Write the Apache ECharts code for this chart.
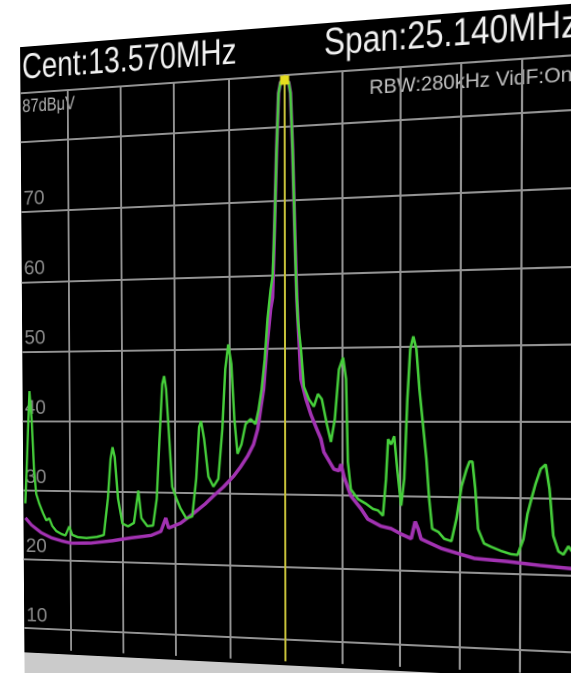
<!DOCTYPE html>
<html>
<head>
<meta charset="utf-8">
<script src="https://cdn.jsdelivr.net/npm/echarts@6/dist/echarts.min.js"></script>
<style>
html,body{margin:0;padding:0;background:#ffffff;overflow:hidden;width:571px;height:673px;}
#photo{position:absolute;left:0;top:0;width:571px;height:710px;transform-origin:0 0;}
#screen{position:absolute;left:6px;top:28px;width:600px;height:637px;background:#000;}
#bezel{position:absolute;left:6px;top:665px;width:600px;height:45px;background:#cbcbcb;}
#chart{position:absolute;left:0;top:0;width:571px;height:673px;clip-path:inset(28px 0 8px 6px);}
</style>
</head>
<body>
<div id="photo"><div id="screen"></div><div id="bezel"></div><div id="chart"></div></div>
<script>
// ---- data ----
const centerFreq = 13.57;          // MHz
const markerLevel = 86.3;          // dBμV
const freqTicks = [1.0, 3.514, 6.028, 8.542, 11.056, 13.57, 16.084, 18.598, 21.112, 23.626, 26.14];
const levelTicks = [10, 20, 30, 40, 50, 60, 70, 80, 87];
const levelLabels = [10, 20, 30, 40, 50, 60, 70];

const greenFreq = [1.30,1.44,1.54,1.64,1.74,1.84,1.99,2.18,2.33,2.48,
  2.63,2.82,3.07,3.27,3.46,3.61,3.86,4.30,4.80,5.14,
  5.34,5.48,5.58,5.68,5.83,6.03,6.30,6.58,6.80,6.94,
  7.22,7.49,7.67,7.81,7.95,8.04,8.13,8.27,8.40,8.59,
  8.78,9.05,9.33,9.52,9.66,9.75,9.89,10.08,10.31,10.54,
  10.73,10.87,11.01,11.15,11.28,11.42,11.60,11.79,12.02,12.24,
  12.38,12.52,12.66,12.79,12.93,13.02,13.11,13.21,13.30,13.39,
  13.57,13.75,13.83,13.92,14.01,14.06,14.14,14.28,14.41,14.63,
  14.85,15.03,15.20,15.42,15.60,15.77,15.95,16.13,16.26,16.34,
  16.47,16.78,17.12,17.43,17.65,17.86,17.99,18.08,18.21,18.34,
  18.47,18.64,18.77,18.90,19.02,19.15,19.28,19.41,19.54,19.71,
  19.83,19.96,20.22,20.47,20.77,20.98,21.19,21.40,21.52,21.64,
  21.76,21.88,22.13,22.41,22.81,23.22,23.51,23.75,23.91,24.07,
  24.23,24.44,24.64,24.80,24.96,25.17,25.37,25.57,25.70,26.14];
const greenLevel = [28.1,37.4,44.3,40.3,33.1,29.5,28.1,26.7,25.7,26.0,
  24.9,24.2,23.8,23.6,24.9,23.7,23.4,23.3,23.5,23.8,
  29.0,34.6,36.3,34.9,29.0,25.5,25.1,25.6,30.2,26.3,
  25.2,25.3,29.1,37.5,45.2,46.3,44.5,37.5,30.8,29.2,
  27.8,26.4,26.7,32.0,39.2,40.0,37.5,32.3,30.9,32.0,
  38.9,47.2,50.6,47.9,40.3,35.5,36.8,39.6,40.3,39.6,
  41.6,44.4,48.5,54.0,58.0,59.8,66.2,77.1,84.6,86.1,
  86.3,86.0,84.5,77.0,66.1,59.7,53.9,49.8,44.7,43.0,
  42.0,43.7,43.0,39.6,37.2,40.3,47.0,48.6,45.7,34.5,
  30.8,29.5,28.9,28.2,28.0,27.3,32.2,37.6,36.9,38.0,
  33.6,28.7,32.3,42.9,49.6,51.3,49.6,44.3,40.3,35.0,
  29.7,25.7,25.3,24.4,24.1,27.1,31.4,33.7,34.7,34.7,
  31.1,25.8,23.9,23.5,23.0,22.6,22.5,24.6,27.9,29.9,
  31.8,33.8,34.4,31.2,25.1,23.1,22.7,23.8,23.2,23.0];

const purpleFreq = [1.30,1.59,2.08,2.58,3.07,3.56,4.55,5.54,6.48,7.40,
  7.86,8.09,8.22,8.78,9.38,9.94,10.31,10.78,11.24,11.56,
  11.88,12.15,12.34,12.47,12.61,12.75,12.93,13.02,13.11,13.21,
  13.30,13.39,13.57,13.75,13.83,13.92,14.01,14.10,14.28,14.50,
  14.72,14.98,15.16,15.29,15.73,15.95,16.04,16.17,16.47,16.91,
  17.21,17.77,18.21,18.64,19.07,19.24,19.37,19.49,20.35,21.72,
  23.10,24.44,25.70,26.14];
const purpleLevel = [26.0,25.0,23.9,23.2,22.8,22.5,22.6,23.0,23.5,23.9,
  24.5,26.4,25.0,25.7,27.1,28.5,29.6,30.9,32.4,33.7,
  35.2,36.8,38.9,41.6,44.4,49.8,55.3,56.9,66.2,77.1,
  84.6,86.1,86.3,86.0,84.5,77.0,66.1,56.6,45.7,43.0,
  40.9,38.9,37.6,35.8,33.5,33.3,34.2,32.5,29.9,28.2,
  26.8,25.9,25.6,24.9,24.3,26.6,25.6,24.3,23.1,21.9,
  21.6,21.2,20.9,20.8];

const headerLeft = 'Cent:13.570MHz';
const headerRight = 'Span:25.140MHz';
const subRight = 'RBW:280kHz VidF:On';
const refLabel = '87dBμV';

// ---- layout (flat screen coordinates) ----
const LAY = { centerX: 284, divPx: 56.5, y80: 127, dbPx: 7.314 };
const gridLeft = LAY.centerX - 5 * LAY.divPx;
const gridWidth = 10 * LAY.divPx;
const gridTop = LAY.y80 - 7 * LAY.dbPx;
const gridHeight = 80 * LAY.dbPx;

// perspective of the photographed screen: flat reference points -> photo points
const flatPts = [[LAY.centerX - 4*LAY.divPx, LAY.y80], [LAY.centerX + 4*LAY.divPx, LAY.y80],
                 [LAY.centerX - 4*LAY.divPx, LAY.y80 + 70*LAY.dbPx], [LAY.centerX + 4*LAY.divPx, LAY.y80 + 70*LAY.dbPx]];
const photoPts = [[68, 139.5], [522, 113], [71, 630], [520, 650]];

function solveLinear(A, b) {
  const n = b.length;
  for (let i = 0; i < n; i++) {
    let p = i;
    for (let r = i + 1; r < n; r++) if (Math.abs(A[r][i]) > Math.abs(A[p][i])) p = r;
    [A[i], A[p]] = [A[p], A[i]]; [b[i], b[p]] = [b[p], b[i]];
    for (let r = i + 1; r < n; r++) {
      const f = A[r][i] / A[i][i];
      for (let c = i; c < n; c++) A[r][c] -= f * A[i][c];
      b[r] -= f * b[i];
    }
  }
  const x = new Array(n);
  for (let i = n - 1; i >= 0; i--) {
    let s = b[i];
    for (let c = i + 1; c < n; c++) s -= A[i][c] * x[c];
    x[i] = s / A[i][i];
  }
  return x;
}
(function applyPerspective() {
  const A = [], b = [];
  for (let i = 0; i < 4; i++) {
    const [x, y] = flatPts[i], [u, v] = photoPts[i];
    A.push([x, y, 1, 0, 0, 0, -x*u, -y*u]); b.push(u);
    A.push([0, 0, 0, x, y, 1, -x*v, -y*v]); b.push(v);
  }
  const h = solveLinear(A, b);
  const m = [h[0], h[3], 0, h[6], h[1], h[4], 0, h[7], 0, 0, 1, 0, h[2], h[5], 0, 1];
  document.getElementById('photo').style.transform = 'matrix3d(' + m.join(',') + ')';
})();

const zip = (xs, ys) => xs.slice(0, Math.min(xs.length, ys.length)).map((x, i) => [x, ys[i]]);

const SANS = '"Liberation Sans", Arial, sans-serif';
const gridColor = '#939393';

const chart = echarts.init(document.getElementById('chart'), null, { renderer: 'canvas', devicePixelRatio: 2 });
chart.setOption({
  animation: false,
  backgroundColor: 'transparent',
  grid: { left: gridLeft, top: gridTop, width: gridWidth, height: gridHeight, containLabel: false },
  xAxis: {
    type: 'value', min: freqTicks[0], max: freqTicks[freqTicks.length - 1],
    axisLine: { show: false },
    axisTick: { show: false, customValues: freqTicks },
    axisLabel: { show: false },
    splitLine: { show: true, lineStyle: { color: gridColor, width: 2 } }
  },
  yAxis: {
    type: 'value', min: 7, max: 87,
    axisLine: { show: false },
    axisTick: { show: false, customValues: levelTicks },
    axisLabel: { show: true, inside: true, customValues: levelLabels, margin: 7,
      color: '#8c8c8c', fontSize: 21, fontFamily: SANS, align: 'left', verticalAlign: 'bottom', padding: [0, 0, 3, 0] },
    splitLine: { show: true, lineStyle: { color: gridColor, width: 2 } }
  },
  graphic: [
    { type: 'text', x: 8, y: 51, scaleX: 0.82, style: { text: headerLeft, fill: '#f2f2f2', fontSize: 37, fontFamily: SANS, align: 'left', verticalAlign: 'middle' } },
    { type: 'text', x: 323, y: 49, scaleX: 0.83, style: { text: headerRight, fill: '#f2f2f2', fontSize: 37, fontFamily: SANS, align: 'left', verticalAlign: 'middle' } },
    { type: 'text', x: 367, y: 95, style: { text: subRight, fill: '#c4c4c4', fontSize: 19, fontFamily: SANS, align: 'left', verticalAlign: 'middle' } },
    { type: 'text', x: 8, y: 91, scaleX: 0.85, style: { text: refLabel, fill: '#b0b0b0', fontSize: 19, fontFamily: SANS, align: 'left', verticalAlign: 'middle' } }
  ],
  series: [
    { name: 'Trace 2', type: 'line', data: zip(purpleFreq, purpleLevel), showSymbol: false, z: 2,
      lineStyle: { color: '#a232b2', width: 3.5 }, itemStyle: { color: '#a232b2' } },
    { name: 'Trace 1', type: 'line', data: zip(greenFreq, greenLevel), showSymbol: false, z: 3,
      lineStyle: { color: '#46cf3b', width: 2.5 }, itemStyle: { color: '#46cf3b' },
      markLine: { silent: true, symbol: ['none', 'none'], label: { show: false },
        lineStyle: { color: '#c8c23a', width: 2, type: 'solid' }, data: [{ xAxis: centerFreq }] },
      markPoint: { silent: true, symbol: 'rect', symbolSize: 9, label: { show: false },
        itemStyle: { color: '#e6de1e' }, data: [{ coord: [centerFreq, markerLevel] }] } }
  ]
});
</script>
</body>
</html>
